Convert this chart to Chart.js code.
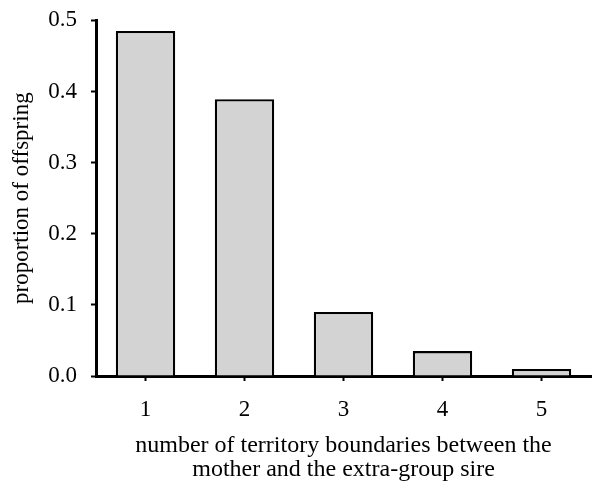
<!DOCTYPE html>
<html>
<head>
<meta charset="utf-8">
<script src="https://cdn.jsdelivr.net/npm/chart.js@4/dist/chart.umd.min.js"></script>
<style>
  body { margin: 0; background: #fff; }
  canvas { display: block; }
</style>
</head>
<body>
<canvas id="chart" width="594" height="491"></canvas>
<script>
// data
const categories = ["1", "2", "3", "4", "5"];
const proportions = [0.485, 0.389, 0.09, 0.035, 0.01];
const yTicks = [0.0, 0.1, 0.2, 0.3, 0.4, 0.5];
const xTitle = ["number of territory boundaries between the", "mother and the extra-group sire"];
const yTitle = "proportion of offspring";

const serif = "'Liberation Serif', 'Times New Roman', serif";

new Chart(document.getElementById("chart"), {
  type: "bar",
  data: {
    labels: categories,
    datasets: [{
      data: proportions,
      backgroundColor: "#d3d3d3",
      borderColor: "#000",
      borderWidth: 2.3,
      barPercentage: 0.6,
      categoryPercentage: 1
    }]
  },
  options: {
    responsive: false,
    animation: false,
    layout: { padding: { top: 0, right: 3, bottom: 0, left: 0 } },
    plugins: { legend: { display: false }, tooltip: { enabled: false } },
    scales: {
      x: {
        grid: { display: true, drawOnChartArea: false, offset: false, tickLength: 5, tickColor: "#000", tickWidth: 2 },
        border: { color: "#000", width: 3 },
        ticks: { color: "#000", font: { family: serif, size: 23 }, padding: 15 },
        title: { display: true, text: xTitle, color: "#000", font: { family: serif, size: 24, lineHeight: 1.0 }, padding: { top: 0, bottom: 9 } },
        afterFit: s => { s.height = 115; }
      },
      y: {
        min: 0,
        max: 0.5,
        afterBuildTicks: s => { s.ticks = yTicks.map(v => ({ value: v })); },
        grid: { display: true, drawOnChartArea: false, tickLength: 5, tickColor: "#000", tickWidth: 2 },
        border: { color: "#000", width: 3 },
        ticks: { color: "#000", font: { family: serif, size: 23, lineHeight: 0.55 }, padding: 14, callback: v => v.toFixed(1) },
        title: { display: true, text: yTitle, color: "#000", font: { family: serif, size: 23, lineHeight: 1.05 }, padding: { top: 10, bottom: 0 } },
        afterFit: s => { s.width = 96; }
      }
    }
  }
});
</script>
</body>
</html>
